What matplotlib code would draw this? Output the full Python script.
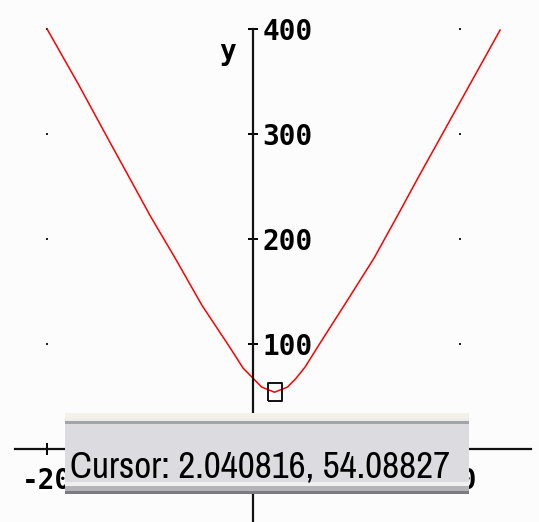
import matplotlib
matplotlib.use("Agg")
from matplotlib import pyplot as plt
from matplotlib import font_manager
from matplotlib.patches import Rectangle

# curve points (x, y)
curve_x = [-20.0, -17.0, -13.9, -12.0, -10.0, -7.6, -5.0, -2.3, -1.0, 0.0, 0.8, 2.04,
           3.3, 4.1, 5.0, 6.4, 9.0, 11.7, 14.0, 16.1, 17.8, 20.0, 23.9]
curve_y = [400, 348, 292, 258, 222, 182, 137, 97, 77, 67, 59, 54.1,
           59, 67, 78, 100, 140, 182, 223, 261, 291, 330, 399]

cursor_x = 2.040816
cursor_y = 54.08827
cursor_text = "Cursor: 2.040816, 54.08827"

y_ticks = [100, 200, 300, 400]
y_tick_labels = ["100", "200", "300", "400"]
x_ticks = [-20, 20]
x_tick_labels = ["-20", "20"]
grid_x = [-20, 20]
grid_y = [100, 200, 300, 400]

W, H = 539, 522
fig = plt.figure(figsize=(W / 100, H / 100), dpi=100)
fig.patch.set_facecolor("white")
ax = fig.add_axes([0, 0, 1, 1])
ax.set_facecolor("#fcfcfc")

ax.set_xlim(-24.56, 27.67)
ax.set_ylim(-69.5, 427.6)

# axes crossing at the origin
for side in ["top", "left"]:
    ax.spines[side].set_visible(False)
ax.spines["right"].set_position(("data", 0))
ax.spines["bottom"].set_position(("data", 0))
ax.spines["right"].set_bounds(-69.5, 400)
ax.spines["bottom"].set_bounds(-23.1, 26.9)
for side in ["right", "bottom"]:
    ax.spines[side].set_linewidth(1.6)
    ax.spines[side].set_color("#111111")

mono = dict(family="DejaVu Sans Mono", weight="bold", size=20)

ax.yaxis.tick_right()
ax.set_yticks(y_ticks)
ax.set_yticklabels(y_tick_labels, fontdict=mono)
ax.tick_params(axis="y", direction="inout", length=7, width=1.4, pad=3)

ax.set_xticks(x_ticks)
ax.set_xticklabels(x_tick_labels, fontdict=mono)
ax.tick_params(axis="x", direction="inout", length=8, width=1.4, pad=9)

ax.text(-2.5, 378, "y", ha="center", va="center", **mono)

# grid dots
gx = [x for x in grid_x for y in grid_y]
gy = [y for x in grid_x for y in grid_y]
ax.plot(gx, gy, ls="none", marker="s", ms=1.6, color="#222222", mew=0)

ax.plot(curve_x, curve_y, color="#ff0000", lw=1.1)

# cursor marker
box = [(-0.78, -1), (0.78, -1), (0.78, 1), (-0.78, 1), (-0.78, -1)]
ax.plot([cursor_x], [cursor_y], ls="none", marker=box, ms=13,
        mfc="none", mec="#111111", mew=1.4)

# cursor readout panel (figure pixel coordinates, top-down)
def band(top, bottom, color, left=65, right=469):
    fig.patches.append(Rectangle((left / W, 1 - bottom / H), (right - left) / W,
                                 (bottom - top) / H, transform=fig.transFigure,
                                 facecolor=color, edgecolor="none", zorder=5))

band(413, 494, "#dcdce0")
band(413, 418, "#f3f1e8")
band(418, 421, "#ececec")
band(421, 424, "#a4a4a8")
band(482, 486, "#f0f0f2")
band(486, 491, "#b4b4b8")
band(491, 494, "#7c7c80")

# narrow font if one is installed
narrow = [f.name for f in font_manager.fontManager.ttflist
          if "Narrow" in f.name or "Condensed" in f.name]
family = narrow[0] if narrow else "DejaVu Sans"
stretch = "normal" if narrow else "condensed"

label = fig.text(70 / W, 1 - 477 / H, cursor_text, family=family,
                 stretch=stretch, size=28, color="black",
                 ha="left", va="baseline", zorder=6)

# shrink the readout until it fits inside the panel
renderer = fig.canvas.get_renderer()
width = label.get_window_extent(renderer).width
label.set_size(28 * min(1.0, 378 / width))

fig.savefig("out.png", dpi=100)
